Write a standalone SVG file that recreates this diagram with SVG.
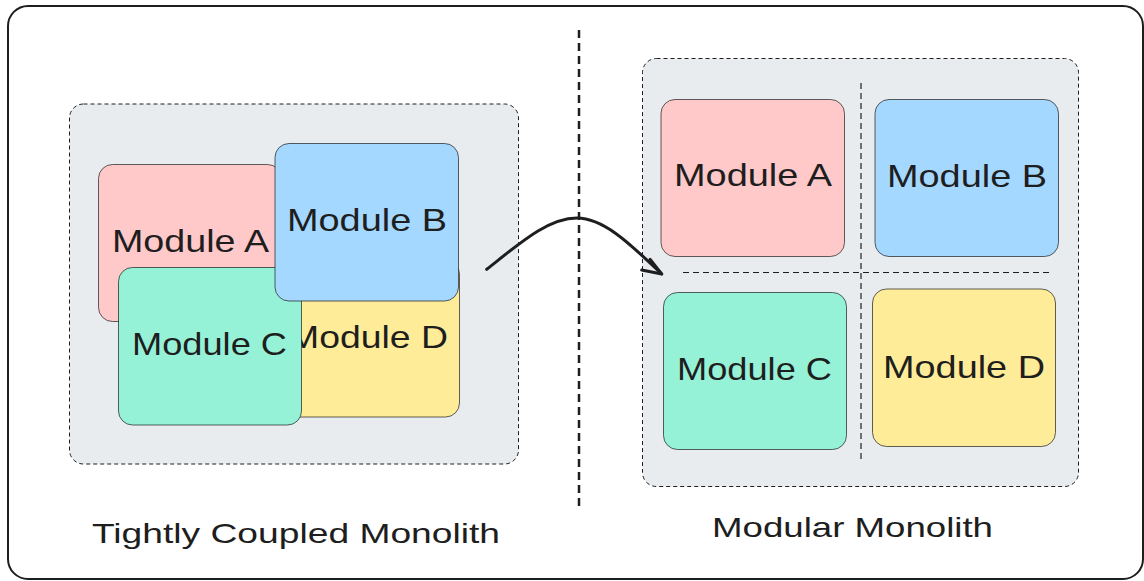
<svg xmlns="http://www.w3.org/2000/svg" width="1144" height="581" viewBox="0 0 1144 581">
<defs>
<style>
.frame{fill:#ffffff;stroke:#1e1e1e;stroke-width:2}
.container{fill:#e9ecef;stroke:#1e1e1e;stroke-width:1;stroke-dasharray:4 3}
.mod{stroke:#1e1e1e;stroke-width:1;stroke-opacity:0.7}
.a{fill:#ffc9c9}.b{fill:#a5d8ff}.c{fill:#96f2d7}.d{fill:#ffec99}
.lbl{font-family:"Liberation Sans","DejaVu Sans",sans-serif;font-size:32px;fill:#1e1e1e}
.title{font-family:"Liberation Sans","DejaVu Sans",sans-serif;font-size:28px;fill:#1e1e1e}
.divider{stroke:#1e1e1e;stroke-width:1.2;stroke-dasharray:6 4;fill:none}
.middiv{stroke:#1e1e1e;stroke-width:2.5;stroke-dasharray:8 5;fill:none}
.arrow{stroke:#1e1e1e;stroke-width:3;fill:none;stroke-linecap:round;stroke-linejoin:round}
</style>
</defs>
<rect class="frame" x="8" y="6" width="1135" height="573" rx="20"/>

<g id="left-container">
<rect class="container" x="69.5" y="104" width="449" height="360" rx="14"/>
</g>
<g id="right-container">
<rect class="container" x="642.5" y="58.5" width="436" height="428" rx="14"/>
</g>

<g id="middle-divider">
<line class="middiv" x1="579" y1="30" x2="579" y2="510"/>
</g>
<g id="right-dividers">
<line class="divider" x1="861" y1="83" x2="861" y2="462"/>
<line class="divider" x1="683" y1="272.5" x2="1050" y2="272.5"/>
</g>

<g id="left-module-a">
<rect class="mod a" x="98.5" y="164.5" width="183" height="157" rx="14"/>
<text class="lbl" x="112" y="252" textLength="157" lengthAdjust="spacingAndGlyphs">Module A</text>
</g>
<g id="left-module-d">
<rect class="mod d" x="276.5" y="260" width="183" height="157" rx="14"/>
<text class="lbl" x="288" y="348" textLength="160" lengthAdjust="spacingAndGlyphs">Module D</text>
</g>
<g id="left-module-c">
<rect class="mod c" x="118.5" y="267.5" width="183" height="157.5" rx="14"/>
<text class="lbl" x="132" y="355" textLength="155" lengthAdjust="spacingAndGlyphs">Module C</text>
</g>
<g id="left-module-b">
<rect class="mod b" x="275" y="143.5" width="183.5" height="157.5" rx="14"/>
<text class="lbl" x="287" y="231" textLength="160" lengthAdjust="spacingAndGlyphs">Module B</text>
</g>

<g id="right-module-a">
<rect class="mod a" x="661" y="99.5" width="183.5" height="157" rx="14"/>
<text class="lbl" x="674" y="186" textLength="158" lengthAdjust="spacingAndGlyphs">Module A</text>
</g>
<g id="right-module-b">
<rect class="mod b" x="875" y="99.5" width="183.5" height="157" rx="14"/>
<text class="lbl" x="887" y="186.5" textLength="160" lengthAdjust="spacingAndGlyphs">Module B</text>
</g>
<g id="right-module-c">
<rect class="mod c" x="663.5" y="292.5" width="183" height="157" rx="14"/>
<text class="lbl" x="677" y="380" textLength="155" lengthAdjust="spacingAndGlyphs">Module C</text>
</g>
<g id="right-module-d">
<rect class="mod d" x="872.5" y="289" width="183" height="157.5" rx="14"/>
<text class="lbl" x="883" y="378" textLength="162" lengthAdjust="spacingAndGlyphs">Module D</text>
</g>

<g id="connectors">
<path class="arrow" d="M486.7,269.3 C520,243 548,218 577,218 C606,218 636,250 661.7,274"/>
<path class="arrow" d="M641.7,270 L661.7,274 L650,259.3"/>
</g>

<g id="labels">
<text class="title" x="92" y="543" textLength="408" lengthAdjust="spacingAndGlyphs">Tightly Coupled Monolith</text>
<text class="title" x="712" y="537" textLength="281" lengthAdjust="spacingAndGlyphs">Modular Monolith</text>
</g>
</svg>
